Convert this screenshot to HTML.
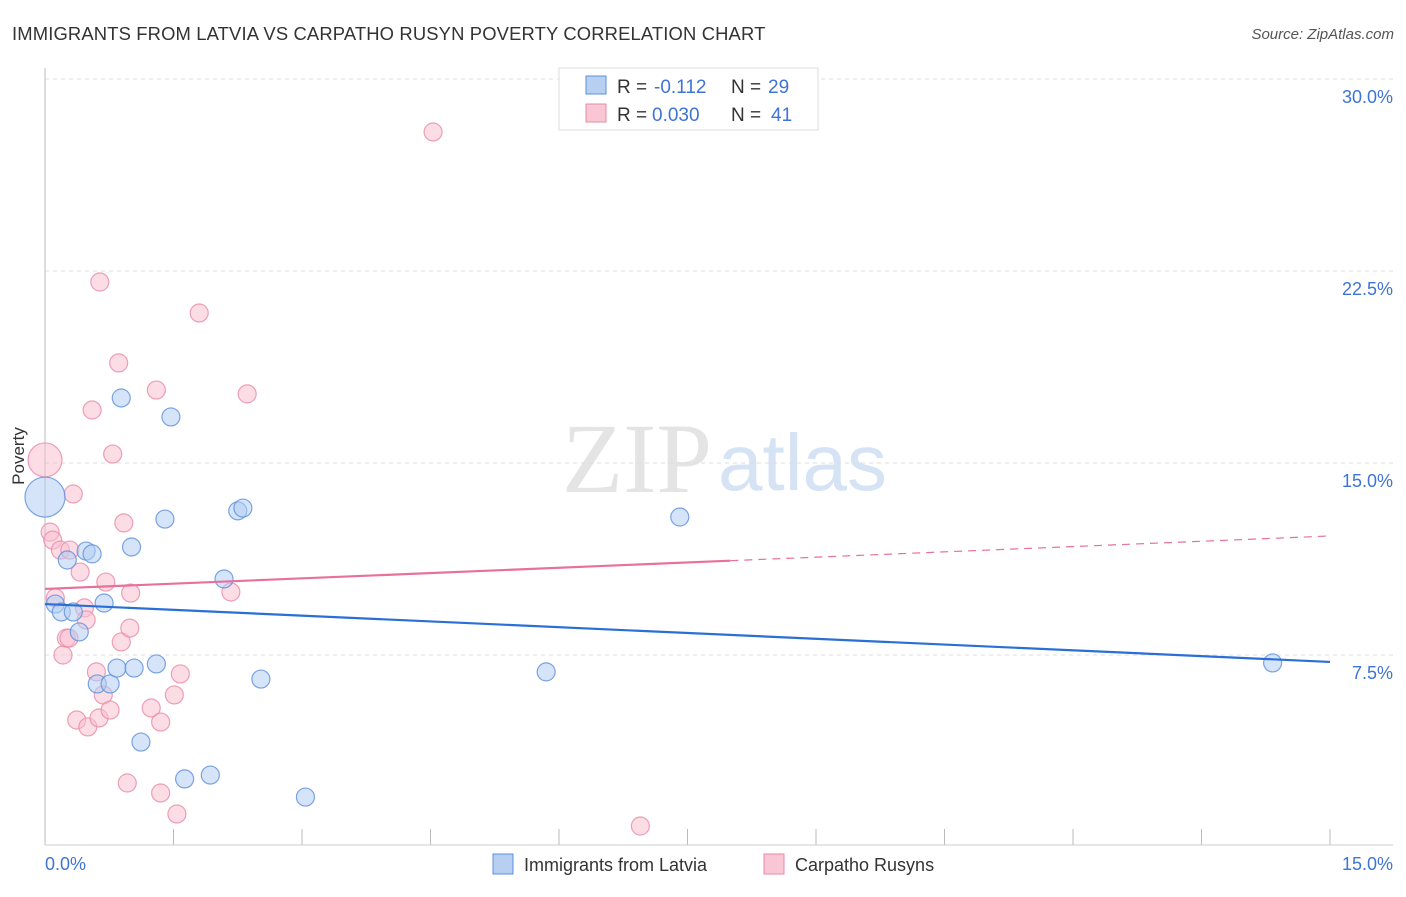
<!DOCTYPE html>
<html><head><meta charset="utf-8"><style>
body{margin:0;background:#fff;font-family:"Liberation Sans",sans-serif;}
</style></head><body>
<svg width="1406" height="892" xmlns="http://www.w3.org/2000/svg" font-family="Liberation Sans, sans-serif">
<text x="12" y="40" font-size="18.4" letter-spacing="0.15" fill="#333">IMMIGRANTS FROM LATVIA VS CARPATHO RUSYN POVERTY CORRELATION CHART</text>
<text x="1394" y="39" font-size="15" fill="#555" font-style="italic" text-anchor="end">Source: ZipAtlas.com</text>
<text x="712" y="492" font-size="100" fill="#e4e4e4" text-anchor="end" font-family="Liberation Serif, serif">ZIP</text>
<text x="718" y="490" font-size="80" fill="#d6e3f5">atlas</text>
<g id="grid"></g>
<line x1="45" y1="68" x2="45" y2="845" stroke="#bbb"/>
<line x1="45" y1="845" x2="1393" y2="845" stroke="#ccc"/>
<text x="24" y="456" font-size="17" fill="#333" text-anchor="middle" transform="rotate(-90 24 456)">Poverty</text>
<text x="45" y="870" font-size="18" fill="#3f74d6">0.0%</text>
<text x="1393" y="870" font-size="18" fill="#3f74d6" text-anchor="end">15.0%</text>
<g id="pts"></g>
<g id="trends"></g>
<g>
<rect x="559" y="68" width="259" height="62" fill="#fff" stroke="#ddd"/>
<rect x="586" y="76" width="20" height="18" fill="#b7d0f2" stroke="#5b8fdc"/>
<rect x="586" y="104" width="20" height="18" fill="#f9c6d4" stroke="#e88aa8"/>
<text x="617" y="93" font-size="19" fill="#333">R =</text>
<text x="654" y="93" font-size="19" fill="#3f74d6">-0.112</text>
<text x="731" y="93" font-size="19" fill="#333">N =</text>
<text x="768" y="93" font-size="19" fill="#3f74d6">29</text>
<text x="617" y="121" font-size="19" fill="#333">R =</text>
<text x="652" y="121" font-size="19" fill="#3f74d6">0.030</text>
<text x="731" y="121" font-size="19" fill="#333">N =</text>
<text x="771" y="121" font-size="19" fill="#3f74d6">41</text>
</g>
<g>
<rect x="493" y="854" width="20" height="20" fill="#b7d0f2" stroke="#5b8fdc"/>
<text x="524" y="871" font-size="18" fill="#333">Immigrants from Latvia</text>
<rect x="764" y="854" width="20" height="20" fill="#f9c6d4" stroke="#e88aa8"/>
<text x="795" y="871" font-size="18" fill="#333">Carpatho Rusyns</text>
</g>
</svg>
<script>
const yTicks=[7.5,15,22.5,30];
const yTickLabels=["7.5%","15.0%","22.5%","30.0%"];
const xTicks=[0,1.5,3,4.5,6,7.5,9,10.5,12,13.5,15];
const blueX=[0,0.12,0.19,0.26,0.33,0.40,0.48,0.55,0.61,0.69,0.76,0.84,0.89,1.01,1.04,1.12,1.30,1.40,1.47,1.63,1.93,2.25,2.31,2.09,2.52,3.04,5.85,7.41,14.33];
const blueY=[13.67,9.49,9.18,11.21,9.18,8.40,11.56,11.45,6.37,9.53,6.37,6.99,17.54,11.72,6.99,4.10,7.15,12.81,16.80,2.66,2.81,13.13,13.24,10.47,6.56,1.95,6.84,12.89,7.19];
const pinkX=[0,0.06,0.09,0.18,0.21,0.25,0.29,0.33,0.37,0.41,0.46,0.48,0.50,0.55,0.60,0.63,0.64,0.68,0.71,0.76,0.79,0.86,0.89,0.92,0.96,0.99,1.00,1.24,1.30,1.35,1.35,1.51,1.54,1.58,1.80,2.17,2.36,4.53,6.95,0.12,0.28];
const pinkY=[15.12,12.30,11.99,11.60,7.50,8.16,11.60,13.79,4.96,10.74,9.34,8.87,4.69,17.07,6.84,5.04,22.07,5.94,10.35,5.35,15.35,18.91,8.01,12.66,2.50,8.55,9.92,5.43,17.85,2.11,4.88,5.94,1.29,6.76,20.86,9.96,17.70,27.93,0.82,9.73,8.16];
const blueTrend=[9.49,7.23];
const pinkTrend=[10.08,12.15];
const pinkSolidEnd=8.0;
const NS="http://www.w3.org/2000/svg";
const X=v=>45+v*1285/15;
const Y=v=>847-v*192/7.5;
function mk(t,a,p){const e=document.createElementNS(NS,t);for(const k in a)e.setAttribute(k,a[k]);p.appendChild(e);return e;}
const grid=document.getElementById('grid');
yTicks.forEach((v,i)=>{
 const l=mk('line',{x1:45,x2:1393,y1:Y(v),y2:Y(v),stroke:'#ddd','stroke-dasharray':'4,4'},grid);
 
 
 const t=mk('text',{x:1393,y:Y(v)+24,'font-size':18,fill:'#3f74d6','text-anchor':'end'},grid);
 t.textContent=yTickLabels[i];
 
 
});
xTicks.forEach(v=>{
 const l=mk('line',{x1:X(v),x2:X(v),y1:829,y2:845,stroke:'#bbb'},grid);
 
 
});
const pts=document.getElementById('pts');
function dot(x,y,r,c){const e=mk('circle',{cx:X(x),cy:Y(y),r:r,fill:c[0],'fill-opacity':0.55,stroke:c[1],'stroke-opacity':0.8,'stroke-width':1.2},pts);return e;}
pinkX.forEach((x,i)=>{const e=dot(x,pinkY[i],i==0?17:9,['#f9c0d0','#e88aa8']);
 
 });
blueX.forEach((x,i)=>{const e=dot(x,blueY[i],i==0?20:9,['#b3cdf2','#5b8fdc']);
 
 });
const tr=document.getElementById('trends');
let b=mk('line',{x1:X(0),y1:Y(blueTrend[0]),x2:X(15),y2:Y(blueTrend[1]),stroke:'#2a6fd6','stroke-width':2.2},tr);


const pm=pinkTrend[0]+(pinkTrend[1]-pinkTrend[0])*pinkSolidEnd/15;
let p1=mk('line',{x1:X(0),y1:Y(pinkTrend[0]),x2:X(pinkSolidEnd),y2:Y(pm),stroke:'#e8709a','stroke-width':2.2},tr);


let p2=mk('line',{x1:X(pinkSolidEnd),y1:Y(pm),x2:X(15),y2:Y(pinkTrend[1]),stroke:'#e8709a','stroke-width':1.2,'stroke-dasharray':'8,6'},tr);


</script>
</body></html>
